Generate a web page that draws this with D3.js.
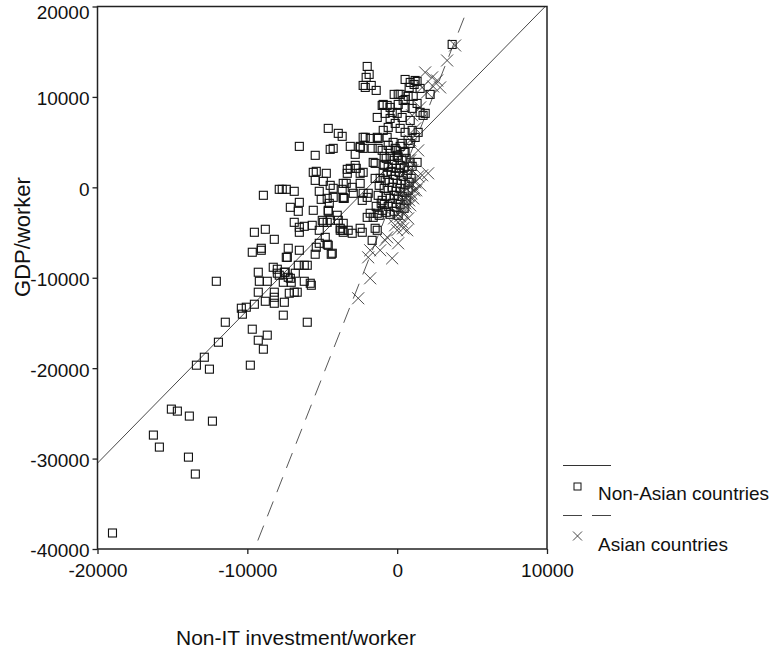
<!DOCTYPE html>
<html>
<head>
<meta charset="utf-8">
<script src="https://cdn.jsdelivr.net/npm/d3@7"></script>
<style>
	body { margin: 0; background: #fff; }
	svg { font-family: "Liberation Sans", Arial, sans-serif; }
</style>
</head>
<body>
<svg id="chart" width="779" height="658"></svg>
<script>
// ================================================================================
// Data (Non-IT investment/worker vs GDP/worker)

var xTicks = [-20000, -10000, 0, 10000];
var yTicks = [20000, 10000, 0, -10000, -20000, -30000, -40000];
var seriesNames = ["Non-Asian countries", "Asian countries"];

	// Fit lines: [intercept, slope, x from, x to]
var fitNonAsian = [3300, 1.69, -20000, 9880];
var fitAsian = [0, 4.2, -9300, 4700];

var nonAsian = [
	[-19000,-38230],[-16270,-27400],[-15870,-28730],[-15070,-24530],[-14670,-24750],[-13870,-25300],
	[-12330,-25860],[-13930,-29840],[-13470,-31710],
	[-12070,-10390],[-11470,-14920],[-11930,-17130],[-12870,-18790],[-13400,-19670],[-12530,-20110],
	[-9800,-19670],[-10400,-13370],[-10330,-14030],[-10070,-13260],[-9530,-12930],[-9670,-15690],
	[-9270,-16910],[-8670,-16350],[-8930,-17900],[-7600,-14140],[-8800,-12600],[-8200,-12160],
	[-8200,-12820],[-7530,-12710],[-9270,-11600],[-9270,-9390],[-9200,-10390],[-8670,-10390],
	[-8270,-8840],[-8000,-9060],[-7870,-9720],[-7600,-10500],[-7530,-9390],[-7330,-7740],
	[-7130,-10060],[-7070,-10500],[-7200,-11710],[-6870,-11600],[-9670,-7180],[-9070,-6960],
	[-6670,-11600],[-6200,-10390],[-5800,-10610],[-5730,-10830],[-8200,-11600],[-6000,-14920],
	[-4600,6520],[-3930,5970],[-3670,5640],[-6530,4530],[-4470,4200],[-4270,4310],[-3130,4530],
	[-5470,3540],[-5600,1660],[-5400,1770],[-4730,1550],[-5470,770],[-4930,660],[-4470,220],
	[-4270,-110],[-3670,-220],[-5200,-440],[-3330,1990],[-3330,1550],[-3600,-1220],[-5070,-1330],
	[-4530,-1770],[-7870,-220],[-7670,-220],[-7400,-220],[-6870,-440],[-8930,-880],[-6530,-1660],
	[-7130,-2210],[-6600,-2650],[-5600,-2540],[-4600,-2650],[-4000,-3090],[-3600,-3980],[-6870,-3870],
	[-6530,-4420],[-6530,-4970],[-6200,-4310],[-5670,-4200],[-5200,-4750],[-4930,-3870],[-4470,-3650],
	[-3800,-4750],[-3600,-4970],[-8800,-4640],[-9530,-4970],[-8200,-5750],[-9070,-6740],[-7270,-6740],
	[-6530,-6960],[-7400,-7740],[-5400,-6630],[-5200,-6190],[-5470,-7400],[-4600,-6410],[-4400,-7400],
	[-6600,-8620],[-6200,-8620],[-6000,-8620],[-8000,-9500],[-7470,-9390],[-7270,-9950],[-6800,-9500],
	[3670,15800],[-2000,13370],[-1870,12490],[-2070,12160],[-2130,11050],[-2270,11270],[-1730,11270],
	[-1400,10720],[530,11930],[870,11600],[1130,11380],[1330,11710],[1200,11820],[800,11050],
	[2200,10280],[1530,10940],[-200,10280],[70,10280],[200,10280],[730,10060],[1070,10060],
	[400,9610],[530,9720],[1330,9280],[-930,9170],[-670,9060],[-470,8840],[-1000,9060],[70,9170],
	[530,8840],[1000,8730],[-1330,7730],[-800,8180],[-470,7620],[-330,8290],[0,8180],[330,7730],
	[870,7400],[1530,8290],[1730,7960],[1870,8180],[-600,6630],[-130,7070],[200,6520],[530,6080],
	[-930,6300],[-670,5530],[1000,6300],[1400,6080],[-1330,5530],[-2130,5530],[-2270,5530],
	[-1800,5410],[-1270,5410],[-2470,4420],[-2270,4310],[-1670,4310],[-1270,4310],[-1000,4090],
	[-600,4640],[-270,4970],[-130,4310],[330,4860],[730,5190],[0,3540],[530,3870],[870,4860],
	[1200,5520],[-2800,3650],[-2470,4530],[-1470,2650],[1330,2760],[-2730,2100],[-2270,1660],
	[-3600,440],[-3600,-1110],[-3000,0],[-2930,-660],[-2470,440],[-2000,-1110],[-1470,990],
	[-1600,2760],[-2800,2430],[-3130,2100],[-3400,440],[-2470,1550],[-4670,-1220],[-4270,-1110],
	[-3530,-1220],[-4600,-2540],[-5000,-3650],[-4670,-3870],[-3930,-3650],[-3800,-4530],[-3670,-4750],
	[-3270,-4750],[-3000,-5080],[-4800,-5530],[-4670,-6300],[-4330,-7290],[-1800,-2870],[-1600,-3320],
	[-1330,-2870],[-2000,-3320],[-2470,-4530],[-2330,-4970],[-1470,-4530],[-1330,-4750],[-1670,-5860],
	[-2270,-660],[-1930,-660],[-2330,-1440],[-1000,-1440],
	[-733,3205],[-467,3426],[-200,2984],[67,3315],[333,2984],[600,3205],[867,2763],[-867,2431],
	[-600,2210],[-333,2542],[-67,2100],[200,2431],[467,2210],[733,1879],[1000,2321],[-933,1658],
	[-667,1437],[-400,1768],[-133,1326],[133,1658],[400,1216],[667,1437],[933,995],[-800,774],
	[-533,553],[-267,884],[0,442],[267,774],[533,332],[800,553],[-867,-111],[-600,-332],[-333,0],
	[-67,-442],[200,-111],[467,-553],[733,-332],[-733,-995],[-467,-1216],[-200,-884],[67,-1326],
	[333,-995],[600,-1437],[-867,-1879],[-600,-2100],[-333,-1768],[-67,-2210],[200,-1879],
	[467,-2321],[-733,-2763],[-467,-2984],[-200,-2652],[67,-3094],[-1000,-2542],[-1200,221],
	[-1267,-884],[-1133,995],[-1067,-1768],[-1400,-2100],[-1200,-3094],[-67,4089],[200,4531],
	[-467,4089],[467,3868],[-867,3426]
];

var asian = [
	[3867,15690],[3333,14030],[1867,12710],[2333,12160],[2667,11820],[2867,11050],[1667,11050],
	[2000,10500],[2400,11160],[1533,8840],[1000,7960],[1200,6520],[867,5190],[1400,4090],
	[1667,1330],[2067,1550],[867,550],[1400,1220],[1533,220],[1267,-330],[200,-330],[400,-550],
	[600,-110],[800,110],[1000,330],[1200,550],[533,-1100],[733,-880],[933,-660],[1133,-330],
	[333,-1440],[533,-1770],[800,-1440],[1067,-1220],[133,-2210],[333,-2540],[600,-2210],
	[867,-1990],[0,-2870],[200,-3200],[467,-2980],[-200,-3430],[733,-3430],[333,-3870],
	[-133,-4200],[0,-4750],[400,-4530],[667,-4750],[-667,-5530],[-800,-5860],[67,-6190],
	[-1133,-6960],[-1800,-6960],[-1933,-7740],[-333,-7850],[-1800,-10060],[-2600,-12270],
	[533,2430],[733,2980],[1000,1880],[333,1330],[867,2980]
];

// ================================================================================
// Layout

var svg = d3.select("#chart");
var pL = 97.5, pR = 547, pT = 6.5, pB = 549;

var x = d3.scaleLinear().domain([-20000, 10000]).range([pL, pR]);
var y = d3.scaleLinear().domain([-40000, 20000]).range([pB, pT]);

svg.append("defs").append("clipPath").attr("id", "plotClip")
	.append("rect")
	.attr("x", pL).attr("y", pT)
	.attr("width", pR-pL).attr("height", pB-pT);

var plot = svg.append("g").attr("clip-path", "url(#plotClip)");

	// PURPOSE: Build end points of a fit line from its params
function fitPts(f)
{
	return [[f[2], f[0]+f[1]*f[2]], [f[3], f[0]+f[1]*f[3]]];
} // fitPts()

var line = d3.line()
	.x(function(d) { return x(d[0]); })
	.y(function(d) { return y(d[1]); });

plot.append("path")
	.attr("d", line(fitPts(fitNonAsian)))
	.attr("fill", "none").attr("stroke", "#333").attr("stroke-width", 0.9);

plot.append("path")
	.attr("d", line(fitPts(fitAsian)))
	.attr("fill", "none").attr("stroke", "#444").attr("stroke-width", 0.9)
	.attr("stroke-dasharray", "16,10");

	// Squares for Non-Asian countries
plot.selectAll("rect.na")
	.data(nonAsian)
	.enter()
	.append("rect")
	.attr("class", "na")
	.attr("x", function(d) { return x(d[0])-4; })
	.attr("y", function(d) { return y(d[1])-4; })
	.attr("width", 8).attr("height", 8)
	.attr("fill", "none").attr("stroke", "#111").attr("stroke-width", 1.1);

	// Crosses for Asian countries
var cross = "M-6,-6L6,6M-6,6L6,-6";
plot.selectAll("path.as")
	.data(asian)
	.enter()
	.append("path")
	.attr("class", "as")
	.attr("d", cross)
	.attr("transform", function(d) { return "translate(" + x(d[0]) + "," + y(d[1]) + ")"; })
	.attr("fill", "none").attr("stroke", "#333").attr("stroke-width", 0.9);

// ================================================================================
// Axes and frame

var axisClr = "#222";
var tickFmt = function(d) { return String(d); };

var xAxis = svg.append("g")
	.attr("transform", "translate(0," + pB + ")")
	.call(d3.axisBottom(x).tickValues(xTicks).tickSize(5).tickSizeOuter(0).tickFormat(tickFmt));
var yAxis = svg.append("g")
	.attr("transform", "translate(" + pL + ",0)")
	.call(d3.axisLeft(y).tickValues(yTicks).tickSize(5).tickSizeOuter(0).tickFormat(tickFmt));

[xAxis, yAxis].forEach(function(a) {
	a.select(".domain").remove();
	a.selectAll("line").attr("stroke", axisClr).attr("stroke-width", 1.3);
	a.selectAll("text")
		.attr("fill", "#111")
		.style("font-size", "19px")
		.style("font-family", "'Liberation Sans', Arial, sans-serif");
});
xAxis.selectAll("text").attr("dy", "1.05em");
	// Labels sit a touch below their ticks, as in the source; top one kept inside the page
yAxis.selectAll("text").attr("x", -8)
	.attr("dy", function(d) { return d === yTicks[0] ? "0.62em" : "0.42em"; });

svg.append("rect")
	.attr("x", pL).attr("y", pT)
	.attr("width", pR-pL).attr("height", pB-pT)
	.attr("fill", "none").attr("stroke", axisClr).attr("stroke-width", 1.5);

svg.append("text")
	.attr("x", 296).attr("y", 645)
	.attr("text-anchor", "middle")
	.style("font-size", "21px").attr("fill", "#111")
	.text("Non-IT investment/worker");

svg.append("text")
	.attr("transform", "translate(30,237) rotate(-90)")
	.attr("text-anchor", "middle")
	.style("font-size", "22px").attr("fill", "#111")
	.text("GDP/worker");

// ================================================================================
// Legend

var lg = svg.append("g");

lg.append("line")
	.attr("x1", 563).attr("x2", 611).attr("y1", 465.5).attr("y2", 465.5)
	.attr("stroke", "#333").attr("stroke-width", 1);
lg.append("rect")
	.attr("x", 574).attr("y", 483).attr("width", 7).attr("height", 7)
	.attr("fill", "none").attr("stroke", "#111").attr("stroke-width", 1);
lg.append("text")
	.attr("x", 598).attr("y", 500)
	.style("font-size", "19px").attr("fill", "#111")
	.text(seriesNames[0]);

lg.append("line")
	.attr("x1", 563).attr("x2", 611).attr("y1", 515.5).attr("y2", 515.5)
	.attr("stroke", "#444").attr("stroke-width", 1)
	.attr("stroke-dasharray", "19,10");
lg.append("path")
	.attr("d", "M-4.5,-4.5L4.5,4.5M-4.5,4.5L4.5,-4.5")
	.attr("transform", "translate(577.5,536)")
	.attr("fill", "none").attr("stroke", "#333").attr("stroke-width", 0.9);
lg.append("text")
	.attr("x", 598).attr("y", 551)
	.style("font-size", "19px").attr("fill", "#111")
	.text(seriesNames[1]);
</script>
</body>
</html>
